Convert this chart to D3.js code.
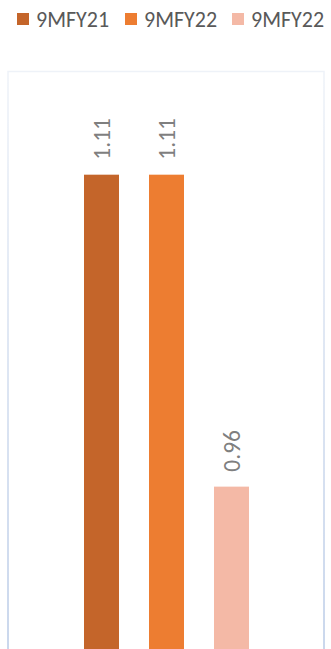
<!DOCTYPE html>
<html>
<head>
<meta charset="utf-8">
<script src="https://cdn.jsdelivr.net/npm/d3@7"></script>
<style>
  html, body { margin: 0; padding: 0; background: #fff; }
  svg { display: block; }
</style>
</head>
<body>
<div id="chart"></div>
<script>
// Series shown as one bar each
const seriesNames = ["9MFY21", "9MFY22", "9MFY22 "];
const legendLabels = ["9MFY21", "9MFY22", "9MFY22"];
const seriesValues = [1.11, 1.11, 0.96];
const seriesColors = ["#C4652A", "#ED7D31", "#F4B9A6"];
const valueDomain = [0.88, 1.15];

const W = 331, H = 649;
const font = "Calibri, Carlito, Lato, sans-serif";

const svg = d3.select("#chart").append("svg")
  .attr("width", W).attr("height", H);

// Frame border fading from pale at the top to light blue at the bottom
const defs = svg.append("defs");
const grad = defs.append("linearGradient")
  .attr("id", "frameGrad").attr("x1", 0).attr("y1", 0).attr("x2", 0).attr("y2", 1);
grad.append("stop").attr("offset", "0%").attr("stop-color", "#eef2f8");
grad.append("stop").attr("offset", "100%").attr("stop-color", "#b7c9e6");

svg.append("rect")
  .attr("x", 8).attr("y", 71.5)
  .attr("width", 316).attr("height", 600)
  .attr("fill", "none")
  .attr("stroke", "url(#frameGrad)")
  .attr("stroke-width", 1.5);

// Scales
const x = d3.scaleBand()
  .domain(seriesNames)
  .range([84, 249])
  .paddingInner(6 / 13)
  .paddingOuter(0);

const y = d3.scaleLinear()
  .domain(valueDomain)
  .range([653, 91.5]);

const data = seriesNames.map((s, i) => ({ key: s, value: seriesValues[i], color: seriesColors[i] }));

// Bars
svg.append("g").selectAll("rect")
  .data(data)
  .join("rect")
  .attr("x", d => x(d.key))
  .attr("y", d => y(d.value))
  .attr("width", x.bandwidth())
  .attr("height", d => y(valueDomain[0]) - y(d.value))
  .attr("fill", d => d.color);

// Value labels, rotated, above each bar
svg.append("g").selectAll("text")
  .data(data)
  .join("text")
  .attr("transform", d => `translate(${x(d.key) + x.bandwidth() / 2 + 8.5},${y(d.value) - 15}) rotate(-90)`)
  .attr("text-anchor", "start")
  .attr("font-family", font)
  .attr("font-size", 23.5)
  .attr("fill", "#7f7f7f")
  .text(d => d.value.toFixed(2));

// Legend
const legendX = [17, 125, 232];
const legend = svg.append("g").selectAll("g")
  .data(data)
  .join("g")
  .attr("transform", (d, i) => `translate(${legendX[i]},0)`);

legend.append("rect")
  .attr("x", 0).attr("y", 13)
  .attr("width", 12).attr("height", 12)
  .attr("fill", d => d.color);

legend.append("text")
  .attr("x", 19).attr("y", 26.5)
  .attr("font-family", font)
  .attr("font-size", 22)
  .attr("fill", "#595959")
  .text((d, i) => legendLabels[i]);
</script>
</body>
</html>
